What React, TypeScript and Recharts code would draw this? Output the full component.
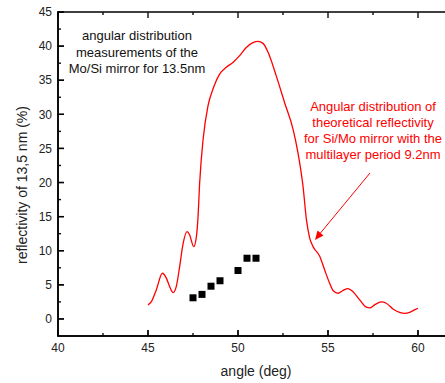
import React from "react";
import { ComposedChart, Line, XAxis, YAxis, Customized } from "recharts";

const curveX = [45, 45.19, 45.46, 45.8, 46.02, 46.2, 46.39, 46.57, 46.76, 46.94, 47.17, 47.31, 47.54, 47.69, 47.78, 47.87, 48.06, 48.33, 48.61, 48.98, 49.35, 49.72, 50.09, 50.46, 50.83, 51.11, 51.39, 51.67, 52.13, 52.59, 53.06, 53.33, 53.61, 53.8, 53.98, 54.17, 54.54, 54.81, 55.09, 55.28, 55.56, 55.83, 56.11, 56.39, 56.76, 57.13, 57.31, 57.59, 57.96, 58.24, 58.61, 58.98, 59.26, 59.54, 59.81, 60];
const curveY = [2.06, 2.55, 4.26, 6.7, 5.98, 4.75, 3.87, 4.75, 7.7, 10.9, 12.8, 12.35, 10.6, 12.1, 15.0, 19.95, 26.3, 31.2, 33.7, 35.9, 36.9, 37.6, 38.6, 39.8, 40.5, 40.7, 40.4, 39.1, 35.6, 31.7, 27.8, 24.4, 19.5, 14.6, 11.9, 10.6, 9.2, 7.2, 5.24, 4.17, 3.77, 4.17, 4.46, 4.0, 2.8, 1.72, 1.62, 2.06, 2.5, 2.3, 1.47, 0.98, 0.83, 0.98, 1.32, 1.57];

const measX = [47.5, 48, 48.5, 49, 50, 50.5, 51];
const measY = [3.1, 3.6, 4.8, 5.6, 7.1, 8.9, 8.9];

const xMajorTicks = [40, 45, 50, 55, 60];
const xMinorTicks = [42.5, 47.5, 52.5, 57.5];
const yMajorTicks = [0, 5, 10, 15, 20, 25, 30, 35, 40, 45];
const yMinorTicks = [2.5, 7.5, 12.5, 17.5, 22.5, 27.5, 32.5, 37.5, 42.5];

const blackNote = ["angular distribution", "measurements of the", "Mo/Si mirror for 13.5nm"];
const redNote = ["Angular distribution of", "theoretical reflectivity", "for Si/Mo mirror with the", "multilayer period 9.2nm"];

const X_MIN = 40;
const X_MAX = 61.5;
const Y_MIN = -2.5;
const Y_MAX = 45;

const W = 445;
const H = 383;
const MARGIN = { top: 12, right: 0, bottom: 17, left: 0 };
const YAXIS_W = 58;
const XAXIS_H = 30;
const PLOT_L = MARGIN.left + YAXIS_W;
const PLOT_R = W - MARGIN.right;
const PLOT_T = MARGIN.top;
const PLOT_B = H - MARGIN.bottom - XAXIS_H;

const sx = (v: number) => PLOT_L + ((v - X_MIN) / (X_MAX - X_MIN)) * (PLOT_R - PLOT_L);
const sy = (v: number) => PLOT_B - ((v - Y_MIN) / (Y_MAX - Y_MIN)) * (PLOT_B - PLOT_T);

const curveData = curveX.map((x, i) => ({ x, y: curveY[i] }));
const measData = measX.map((x, i) => ({ x, y: measY[i] }));

const FONT = "Liberation Sans, Arial, sans-serif";
const AX = 1.6;
const TK = 1.4;

const Square = (props: any) => {
  const { cx, cy, index } = props;
  return <rect key={index} x={cx - 3.5} y={cy - 3.5} width={7} height={7} fill="#000" />;
};

const Overlay = () => (
  <g fontFamily={FONT}>
    <g fill="#111" stroke="none">
      <rect x={PLOT_L - AX / 2} y={PLOT_T - AX / 2} width={AX} height={PLOT_B - PLOT_T + AX} />
      <rect x={PLOT_L - AX / 2} y={PLOT_B - AX / 2} width={PLOT_R - PLOT_L + AX} height={AX} />
      <rect x={PLOT_L - AX / 2} y={PLOT_T - AX / 2} width={PLOT_R - PLOT_L + AX} height={AX} />
      {xMajorTicks.map((v) => (
        <g key={`xm${v}`}>
          <rect x={sx(v) - TK / 2} y={PLOT_B - 6} width={TK} height={6} />
          <rect x={sx(v) - TK / 2} y={PLOT_T} width={TK} height={6} />
        </g>
      ))}
      {xMinorTicks.map((v) => (
        <g key={`xn${v}`}>
          <rect x={sx(v) - TK / 2} y={PLOT_B - 3} width={TK} height={3} />
          <rect x={sx(v) - TK / 2} y={PLOT_T} width={TK} height={3} />
        </g>
      ))}
      {yMajorTicks.map((v) => (
        <rect key={`ym${v}`} x={PLOT_L} y={sy(v) - TK / 2} width={6} height={TK} />
      ))}
      {yMinorTicks.map((v) => (
        <rect key={`yn${v}`} x={PLOT_L} y={sy(v) - TK / 2} width={3} height={TK} />
      ))}
    </g>
    <text
      x={23}
      y={185}
      transform="rotate(-90 23 185)"
      textAnchor="middle"
      dominantBaseline="middle"
      fontSize={14}
      fill="#222"
    >
      reflectivity of 13,5 nm (%)
    </text>
    <text x={256} y={376} textAnchor="middle" fontSize={14} fill="#222">
      angle (deg)
    </text>
    {blackNote.map((t, i) => (
      <text key={t} x={137} y={40 + i * 16.5} textAnchor="middle" fontSize={13} fill="#111">
        {t}
      </text>
    ))}
    {redNote.map((t, i) => (
      <text key={t} x={373} y={111 + i * 16} textAnchor="middle" fontSize={13} fill="#ff0000">
        {t}
      </text>
    ))}
    <line x1={370} y1={173} x2={318} y2={236} stroke="#ff0000" strokeWidth={1} />
    <polygon points="315,240 317.5,230.5 323.5,235.5" fill="#ff0000" />
  </g>
);

export default function App() {
  return (
    <div style={{ width: W, height: H, background: "#fff" }}>
      <style>{"body{margin:0}"}</style>
      <ComposedChart width={W} height={H} margin={MARGIN}>
        <XAxis
          type="number"
          dataKey="x"
          domain={[X_MIN, X_MAX]}
          ticks={xMajorTicks}
          interval={0}
          height={XAXIS_H}
          tickSize={-6}
          tickMargin={13}
          tickLine={{ stroke: "#000", strokeWidth: 1.3 }}
          axisLine={{ stroke: "#000", strokeWidth: 1.5 }}
          tick={{ fontSize: 12, fill: "#222", fontFamily: FONT }}
          allowDataOverflow
        />
        <YAxis
          type="number"
          dataKey="y"
          domain={[Y_MIN, Y_MAX]}
          ticks={yMajorTicks}
          interval={0}
          width={YAXIS_W}
          tickSize={-6}
          tickMargin={12}
          tickLine={{ stroke: "#000", strokeWidth: 1.3 }}
          axisLine={{ stroke: "#000", strokeWidth: 1.5 }}
          tick={{ fontSize: 12, fill: "#222", fontFamily: FONT }}
          allowDataOverflow
        />
        <Line
          data={curveData}
          dataKey="y"
          type="monotone"
          stroke="#ff0000"
          strokeWidth={1.3}
          dot={false}
          activeDot={false}
          isAnimationActive={false}
        />
        <Line
          data={measData}
          dataKey="y"
          stroke="none"
          dot={<Square />}
          activeDot={false}
          isAnimationActive={false}
        />
        <Customized component={<Overlay />} />
      </ComposedChart>
    </div>
  );
}
